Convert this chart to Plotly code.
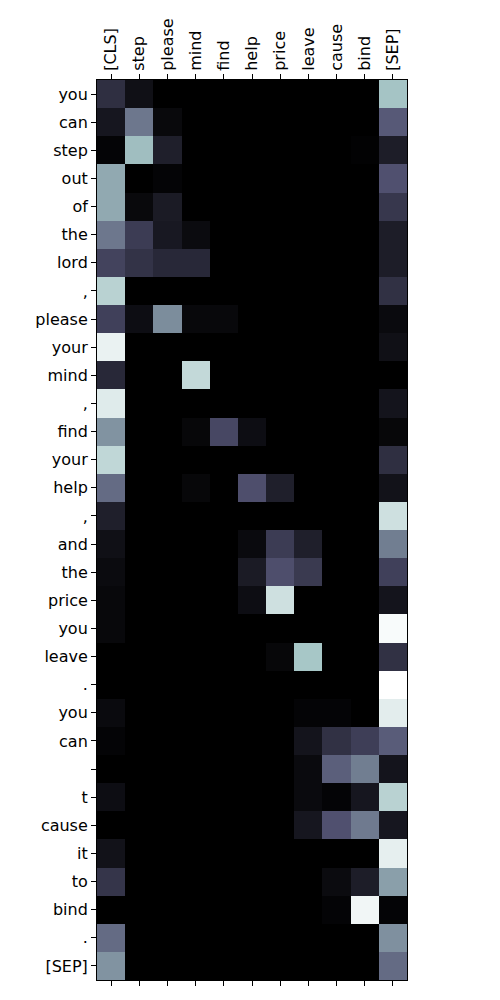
import plotly.graph_objects as go

cols = ["[CLS]", "step", "please", "mind", "find", "help", "price", "leave", "cause", "bind", "[SEP]"]
rows = ["you", "can", "step", "out", "of", "the", "lord", ",", "please", "your", "mind", ",",
        "find", "your", "help", ",", "and", "the", "price", "you", "leave", ".", "you", "can",
        "", "t", "cause", "it", "to", "bind", ".", "[SEP]"]

#            CLS   step  plea  mind  find  help  pric  leav  caus  bind  SEP
r_you1   = [0.21, 0.07, 0.00, 0.00, 0.00, 0.00, 0.00, 0.00, 0.00, 0.00, 0.74]
r_can1   = [0.10, 0.49, 0.04, 0.00, 0.00, 0.00, 0.00, 0.00, 0.00, 0.00, 0.39]
r_step   = [0.02, 0.72, 0.14, 0.00, 0.00, 0.00, 0.00, 0.00, 0.00, 0.01, 0.13]
r_out    = [0.65, 0.00, 0.02, 0.00, 0.00, 0.00, 0.00, 0.00, 0.00, 0.00, 0.36]
r_of     = [0.65, 0.04, 0.12, 0.00, 0.00, 0.00, 0.00, 0.00, 0.00, 0.00, 0.25]
r_the1   = [0.49, 0.27, 0.11, 0.05, 0.00, 0.00, 0.00, 0.00, 0.00, 0.00, 0.13]
r_lord   = [0.30, 0.23, 0.18, 0.18, 0.00, 0.00, 0.00, 0.00, 0.00, 0.00, 0.13]
r_comma1 = [0.80, 0.00, 0.00, 0.00, 0.00, 0.00, 0.00, 0.00, 0.00, 0.00, 0.22]
r_please = [0.29, 0.06, 0.56, 0.035, 0.035, 0.00, 0.00, 0.00, 0.00, 0.00, 0.045]
r_your1  = [0.94, 0.00, 0.00, 0.00, 0.00, 0.00, 0.00, 0.00, 0.00, 0.00, 0.07]
r_mind   = [0.18, 0.00, 0.00, 0.83, 0.00, 0.00, 0.00, 0.00, 0.00, 0.00, 0.00]
r_comma2 = [0.91, 0.00, 0.00, 0.00, 0.00, 0.00, 0.00, 0.00, 0.00, 0.00, 0.09]
r_find   = [0.58, 0.00, 0.00, 0.03, 0.32, 0.06, 0.00, 0.00, 0.00, 0.00, 0.03]
r_your2  = [0.82, 0.00, 0.00, 0.00, 0.00, 0.00, 0.00, 0.00, 0.00, 0.00, 0.21]
r_help   = [0.45, 0.00, 0.00, 0.03, 0.00, 0.35, 0.14, 0.00, 0.00, 0.00, 0.08]
r_comma3 = [0.14, 0.00, 0.00, 0.00, 0.00, 0.00, 0.00, 0.00, 0.00, 0.00, 0.86]
r_and    = [0.07, 0.00, 0.00, 0.00, 0.00, 0.045, 0.27, 0.14, 0.00, 0.00, 0.51]
r_the2   = [0.05, 0.00, 0.00, 0.00, 0.00, 0.12, 0.35, 0.26, 0.00, 0.00, 0.29]
r_price  = [0.035, 0.00, 0.00, 0.00, 0.00, 0.06, 0.86, 0.00, 0.00, 0.00, 0.09]
r_you2   = [0.035, 0.00, 0.00, 0.00, 0.00, 0.00, 0.00, 0.00, 0.00, 0.00, 0.98]
r_leave  = [0.00, 0.00, 0.00, 0.00, 0.00, 0.00, 0.03, 0.75, 0.00, 0.00, 0.22]
r_dot1   = [0.00, 0.00, 0.00, 0.00, 0.00, 0.00, 0.00, 0.00, 0.00, 0.00, 1.00]
r_you3   = [0.045, 0.00, 0.00, 0.00, 0.00, 0.00, 0.00, 0.02, 0.02, 0.00, 0.92]
r_can2   = [0.02, 0.00, 0.00, 0.00, 0.00, 0.00, 0.00, 0.09, 0.22, 0.28, 0.40]
r_apos   = [0.00, 0.00, 0.00, 0.00, 0.00, 0.00, 0.00, 0.045, 0.41, 0.51, 0.09]
r_t      = [0.06, 0.00, 0.00, 0.00, 0.00, 0.00, 0.00, 0.045, 0.02, 0.10, 0.80]
r_cause  = [0.00, 0.00, 0.00, 0.00, 0.00, 0.00, 0.00, 0.10, 0.36, 0.50, 0.10]
r_it     = [0.08, 0.00, 0.00, 0.00, 0.00, 0.00, 0.00, 0.00, 0.00, 0.00, 0.93]
r_to     = [0.24, 0.00, 0.00, 0.00, 0.00, 0.00, 0.00, 0.00, 0.05, 0.13, 0.62]
r_bind   = [0.00, 0.00, 0.00, 0.00, 0.00, 0.00, 0.00, 0.00, 0.02, 0.96, 0.02]
r_dot2   = [0.45, 0.00, 0.00, 0.00, 0.00, 0.00, 0.00, 0.00, 0.00, 0.00, 0.57]
r_sep    = [0.58, 0.00, 0.00, 0.00, 0.00, 0.00, 0.00, 0.00, 0.00, 0.00, 0.45]

z = [r_you1, r_can1, r_step, r_out, r_of, r_the1, r_lord, r_comma1, r_please, r_your1,
     r_mind, r_comma2, r_find, r_your2, r_help, r_comma3, r_and, r_the2, r_price, r_you2,
     r_leave, r_dot1, r_you3, r_can2, r_apos, r_t, r_cause, r_it, r_to, r_bind, r_dot2, r_sep]

bone = [
    [0.0, "rgb(0,0,0)"],
    [0.365079, "rgb(81,81,113)"],
    [0.746032, "rgb(166,198,198)"],
    [1.0, "rgb(255,255,255)"],
]

xi = list(range(len(cols)))
yi = list(range(len(rows)))

fig = go.Figure(go.Heatmap(
    z=z, x=xi, y=yi, colorscale=bone, zmin=0, zmax=1, showscale=False,
))

font = dict(family="DejaVu Sans", size=16, color="black")
fig.update_layout(
    width=500, height=1000,
    margin=dict(l=97, r=93, t=80, b=20),
    paper_bgcolor="white", plot_bgcolor="white",
    font=font,
    xaxis=dict(
        side="top", tickvals=xi, ticktext=cols, tickangle=-90,
        ticks="outside", ticklen=5, tickcolor="black", showline=True,
        linecolor="black", linewidth=1, mirror="ticks", showgrid=False,
        zeroline=False, range=[-0.5, len(cols) - 0.5], tickfont=font,
    ),
    yaxis=dict(
        tickvals=yi, ticktext=rows, ticks="outside", ticklen=5,
        tickcolor="black", showline=True, linecolor="black", linewidth=1,
        mirror=True, showgrid=False, zeroline=False,
        range=[len(rows) - 0.5, -0.5], tickfont=font,
    ),
)

fig.write_html("out.html")
